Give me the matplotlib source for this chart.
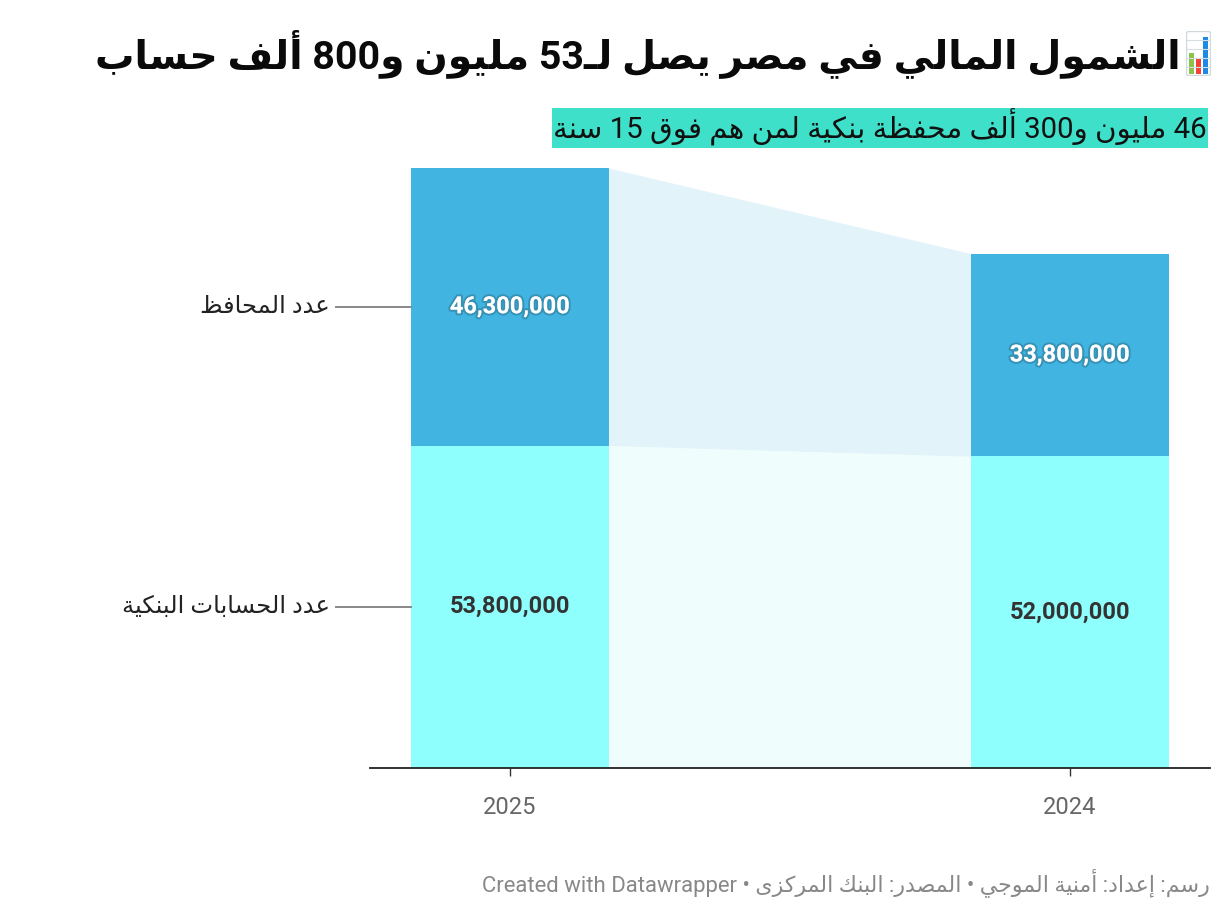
import re
import matplotlib
matplotlib.use("Agg")
import matplotlib.pyplot as plt
import matplotlib.patheffects as pe
from matplotlib.patches import Rectangle, FancyBboxPatch

# data
years = ["2025", "2024"]
accounts = [53_800_000, 52_000_000]
wallets = [46_300_000, 33_800_000]
series_names = ["عدد الحسابات البنكية", "عدد المحافظ"]

title = "الشمول المالي في مصر يصل لـ53 مليون و800 ألف حساب"
subtitle = "46 مليون و300 ألف محفظة بنكية لمن هم فوق 15 سنة"
footer = "رسم: إعداد: أمنية الموجي • المصدر: البنك المركزى • Created with Datawrapper"

c_wallet = "#41b4e1"
c_account = "#8efffc"
c_band_top = "#e2f3fa"
c_band_bot = "#effefd"

# --- tiny arabic shaper (matplotlib has no shaping / bidi) ---
AR = {
    "ء": (0xFE80, 0), "آ": (0xFE81, 1), "أ": (0xFE83, 1), "ؤ": (0xFE85, 1),
    "إ": (0xFE87, 1), "ئ": (0xFE89, 2), "ا": (0xFE8D, 1), "ب": (0xFE8F, 2),
    "ة": (0xFE93, 1), "ت": (0xFE95, 2), "ث": (0xFE99, 2), "ج": (0xFE9D, 2),
    "ح": (0xFEA1, 2), "خ": (0xFEA5, 2), "د": (0xFEA9, 1), "ذ": (0xFEAB, 1),
    "ر": (0xFEAD, 1), "ز": (0xFEAF, 1), "س": (0xFEB1, 2), "ش": (0xFEB5, 2),
    "ص": (0xFEB9, 2), "ض": (0xFEBD, 2), "ط": (0xFEC1, 2), "ظ": (0xFEC5, 2),
    "ع": (0xFEC9, 2), "غ": (0xFECD, 2), "ف": (0xFED1, 2), "ق": (0xFED5, 2),
    "ك": (0xFED9, 2), "ل": (0xFEDD, 2), "م": (0xFEE1, 2), "ن": (0xFEE5, 2),
    "ه": (0xFEE9, 2), "و": (0xFEED, 1), "ى": (0xFEEF, 1), "ي": (0xFEF1, 2),
}
LAM_ALEF = {"آ": 0xFEF5, "أ": 0xFEF7, "إ": 0xFEF9, "ا": 0xFEFB}


def jt(c):
    if c == "ـ":
        return 2
    return AR[c][1] if c in AR else 0


def shape(s):
    res = []
    i, n = 0, len(s)
    while i < n:
        c = s[i]
        jp = i > 0 and jt(s[i - 1]) == 2
        if c == "ل" and i + 1 < n and s[i + 1] in LAM_ALEF:
            res.append(chr(LAM_ALEF[s[i + 1]] + (1 if jp else 0)))
            i += 2
            continue
        if c in AR:
            base, t = AR[c]
            jn = t == 2 and i + 1 < n and jt(s[i + 1]) > 0
            if t == 0:
                f = 0
            elif jp and jn:
                f = 3
            elif jp:
                f = 1
            elif jn:
                f = 2
            else:
                f = 0
            res.append(chr(base + f))
        else:
            res.append(c)
        i += 1
    return "".join(res)


LTR = re.compile(r"[0-9A-Za-z][0-9A-Za-z ,.]*[0-9A-Za-z]|[0-9A-Za-z]")


def rtl(s):
    s = shape(s)
    parts, pos = [], 0
    for m in LTR.finditer(s):
        if m.start() > pos:
            parts.append(s[pos:m.start()][::-1])
        parts.append(m.group())
        pos = m.end()
    if pos < len(s):
        parts.append(s[pos:][::-1])
    return "".join(reversed(parts))


FAM = ["Roboto", "DejaVu Sans"]
plt.rcParams["font.family"] = FAM

W, H = 1220, 916
fig = plt.figure(figsize=(W / 100, H / 100), dpi=100)

ax = fig.add_axes([370 / W, (H - 768) / H, 840 / W, 600 / H])
x = [0, 1]
bw = 0.352
acc = [v / 1e6 for v in accounts]
wal = [v / 1e6 for v in wallets]
tot = [a + w for a, w in zip(acc, wal)]

# connecting bands
bx = [x[0] + bw / 2, x[1] - bw / 2]
ax.fill_between(bx, [0, 0], acc, color=c_band_bot, lw=0)
ax.fill_between(bx, acc, tot, color=c_band_top, lw=0)

ax.bar(x, acc, width=bw, color=c_account, lw=0)
ax.bar(x, wal, width=bw, bottom=acc, color=c_wallet, lw=0)

for i in range(2):
    ax.text(x[i], acc[i] / 2, f"{accounts[i]:,}", ha="center", va="center",
            fontsize=17, fontweight="bold", color="#333333")
    ax.text(x[i], acc[i] + wal[i] / 2, f"{wallets[i]:,}", ha="center", va="center",
            fontsize=17, fontweight="bold", color="white",
            path_effects=[pe.withStroke(linewidth=3, foreground=(0, 0, 0, 0.18))])

# series labels with leader lines at the first bar
for yv, name in [(acc[0] / 2, series_names[0]), (acc[0] + wal[0] / 2, series_names[1])]:
    ax.plot([-0.310, x[0] - bw / 2], [yv, yv], color="#888888", lw=1.4, clip_on=False)
    ax.text(-0.321, yv, rtl(name), ha="right", va="center", fontsize=17.5, color="#222222")

ax.set_xlim(-0.25, 1.25)
ax.set_ylim(0, max(tot))
ax.set_xticks(x, years)
ax.set_yticks([])
for s in ["top", "left", "right"]:
    ax.spines[s].set_visible(False)
ax.spines["bottom"].set_color("#222222")
ax.spines["bottom"].set_linewidth(1.3)
ax.tick_params(axis="x", length=6, width=1, color="#333333", pad=14,
               labelsize=17, labelcolor="#666666")

# title + emoji-like icon
fig.text(1181 / W, (H - 68) / H, rtl(title), ha="right", va="baseline",
         fontsize=28.4, fontweight="bold", color="#0a0a0a")
iax = fig.add_axes([1186 / W, (H - 76) / H, 25 / W, 45 / H])
iax.set_xlim(0, 25)
iax.set_ylim(0, 45)
iax.axis("off")
iax.add_patch(FancyBboxPatch((0.5, 0.5), 24, 44, boxstyle="round,pad=0,rounding_size=2",
                             fc="white", ec="#cfd8dc", lw=1))
for gy in [9, 18, 27, 36]:
    iax.plot([1, 24], [gy, gy], color="#d5dde1", lw=0.8)
iax.add_patch(Rectangle((3, 2), 4.5, 21, fc="#8bc34a", lw=0))
iax.add_patch(Rectangle((10.2, 2), 4.5, 15, fc="#f44336", lw=0))
iax.add_patch(Rectangle((17.4, 2), 4.5, 37, fc="#1e88e5", lw=0))

# subtitle with highlight
fig.text(1207 / W, (H - 139) / H, rtl(subtitle), ha="right", va="baseline",
         fontsize=21.2, color="#111111",
         bbox=dict(boxstyle="square,pad=0.04", fc="#3fe0c9", ec="none"))

# footer
fig.text(1210 / W, (H - 891) / H, rtl(footer), ha="right", va="baseline",
         fontsize=15.9, color="#888888")

fig.savefig("out.png", dpi=100)
